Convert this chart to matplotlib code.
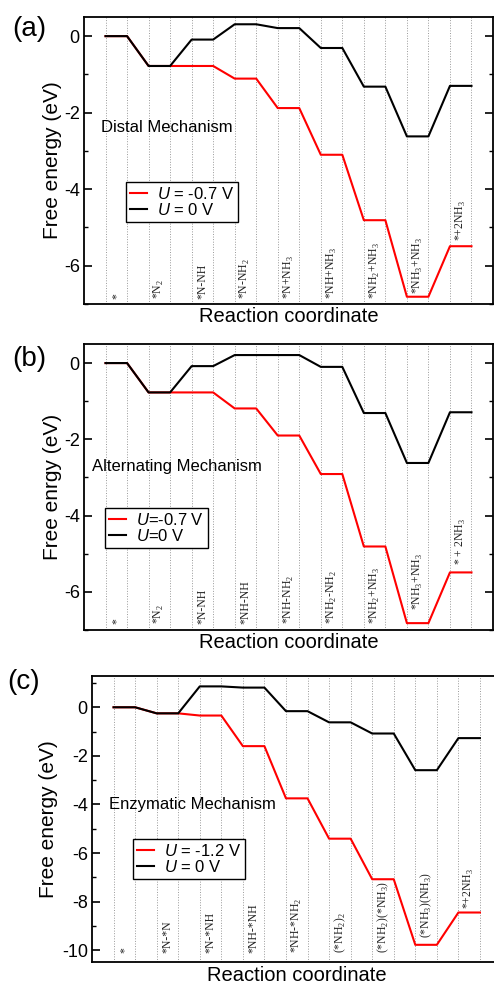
import numpy as np
import matplotlib
matplotlib.use("Agg")
import matplotlib.pyplot as plt
from matplotlib.ticker import MultipleLocator

plt.rcParams['font.family'] = 'Liberation Sans'
plt.rcParams['axes.unicode_minus'] = False
plt.rcParams['mathtext.fontset'] = 'custom'
plt.rcParams['mathtext.rm'] = 'Liberation Serif'
plt.rcParams['mathtext.it'] = 'Liberation Sans:italic'

# free energies of each intermediate (eV)
distal_u0 = [0.0, -0.78, -0.09, 0.31, 0.21, -0.31, -1.32, -2.62, -1.30]
distal_u = [0.0, -0.78, -0.78, -1.11, -1.88, -3.10, -4.81, -6.81, -5.49]
alt_u0 = [0.0, -0.77, -0.08, 0.21, 0.21, -0.10, -1.31, -2.62, -1.29]
alt_u = [0.0, -0.77, -0.77, -1.19, -1.90, -2.91, -4.81, -6.82, -5.49]
enz_u0 = [0.0, -0.25, 0.86, 0.81, -0.16, -0.62, -1.08, -2.59, -1.27]
enz_u = [0.0, -0.25, -0.34, -1.60, -3.75, -5.41, -7.08, -9.78, -8.45]

s2 = r'$_\mathrm{2}$'
s3 = r'$_\mathrm{3}$'
distal_labels = ['*', '*N' + s2, '*N-NH', '*N-NH' + s2, '*N+NH' + s3, '*NH+NH' + s3,
                 '*NH' + s2 + '+NH' + s3, '*NH' + s3 + '+NH' + s3, '*+2NH' + s3]
alt_labels = ['*', '*N' + s2, '*N-NH', '*NH-NH', '*NH-NH' + s2, '*NH' + s2 + '-NH' + s2,
              '*NH' + s2 + '+NH' + s3, '*NH' + s3 + '+NH' + s3, '* + 2NH' + s3]
enz_labels = ['*', '*N-*N', '*N-*NH', '*NH-*NH', '*NH-*NH' + s2, '(*NH' + s2 + ')' + s2,
              '(*NH' + s2 + ')(*NH' + s3 + ')', '(*NH' + s3 + ')(NH' + s3 + ')', '*+2NH' + s3]
# bottom of each rotated label (eV)
distal_label_y = [-6.88] * 7 + [-6.73, -5.36]
alt_label_y = [-6.84] * 7 + [-6.47, -5.29]
enz_label_y = [-10.1] * 7 + [-9.48, -8.31]

panels = [
    dict(tag='(a)', u0=distal_u0, u=distal_u, labels=distal_labels, ly=distal_label_y,
         ulab='$U$ = -0.7 V', u0lab='$U$ = 0 V', name='Distal Mechanism', name_xy=(-0.19, -2.4),
         ylabel='Free energy (eV)', ylim=(-7, 0.5), rect=[84, 17, 493, 304],
         leg=(0.102, 0.426), tag_xy=(12, 29), ylab_x=-0.054),
    dict(tag='(b)', u0=alt_u0, u=alt_u, labels=alt_labels, ly=alt_label_y,
         ulab='$U$=-0.7 V', u0lab='$U$=0 V', name='Alternating Mechanism', name_xy=(-0.64, -2.72),
         ylabel='Free enrgy (eV)', ylim=(-7, 0.5), rect=[84, 344, 493, 630],
         leg=(0.051, 0.428), tag_xy=(12, 359), ylab_x=-0.054),
    dict(tag='(c)', u0=enz_u0, u=enz_u, labels=enz_labels, ly=enz_label_y,
         ulab='$U$ = -1.2 V', u0lab='$U$ = 0 V', name='Enzymatic Mechanism', name_xy=(-0.19, -4.0),
         ylabel='Free energy (eV)', ylim=(-10.5, 1.3), rect=[92, 675.7, 501.5, 962.3],
         leg=(0.100, 0.430), tag_xy=(7, 682), ylab_x=-0.083),
]

W, H = 494, 984
fig = plt.figure(figsize=(W / 100, H / 100), dpi=100)

for p in panels:
    x0, y0, x1, y1 = p['rect']
    ax = fig.add_axes([x0 / W, 1 - y1 / H, (x1 - x0) / W, (y1 - y0) / H])

    n = len(p['u0'])
    xs = np.arange(2 * n)
    ax.plot(xs, np.repeat(p['u'], 2), color='red', lw=1.5, label=p['ulab'])
    ax.plot(xs, np.repeat(p['u0'], 2), color='black', lw=1.5, label=p['u0lab'])

    for x in xs:
        ax.axvline(x, color='#999999', lw=0.7, ls=':', zorder=0)

    for k, (lab, yb) in enumerate(zip(p['labels'], p['ly'])):
        ax.text(2 * k + 0.5, yb, lab, rotation=90, ha='center', va='bottom',
                fontsize=8.5, family='Liberation Serif', color='#222222')

    ax.text(p['name_xy'][0], p['name_xy'][1], p['name'], fontsize=12, va='center')

    ax.set_xlim(-1, 18)
    ax.set_ylim(*p['ylim'])
    ax.set_xticks([])
    ax.yaxis.set_major_locator(MultipleLocator(2))
    ax.yaxis.set_minor_locator(MultipleLocator(1))
    ax.tick_params(axis='y', which='both', direction='in', left=True, right=True,
                   labelsize=13, pad=3)
    ax.tick_params(axis='y', which='major', length=6, width=1.2)
    ax.tick_params(axis='y', which='minor', length=3, width=1.0)
    for sp in ax.spines.values():
        sp.set_linewidth(1.3)

    ax.set_ylabel(p['ylabel'], fontsize=15)
    ax.yaxis.set_label_coords(p['ylab_x'], 0.5)
    ax.set_xlabel('Reaction coordinate', fontsize=14.5)
    ax.xaxis.set_label_coords(0.5, -0.012)

    ax.legend(loc='upper left', bbox_to_anchor=p['leg'], borderaxespad=0, fontsize=12,
              fancybox=False, framealpha=1, edgecolor='black', handlelength=1.0,
              handletextpad=0.6, borderpad=0.25, labelspacing=0.0)

    fig.text(p['tag_xy'][0] / W, 1 - p['tag_xy'][1] / H, p['tag'], fontsize=20,
             ha='left', va='center')

fig.savefig('out.png', dpi=100)
